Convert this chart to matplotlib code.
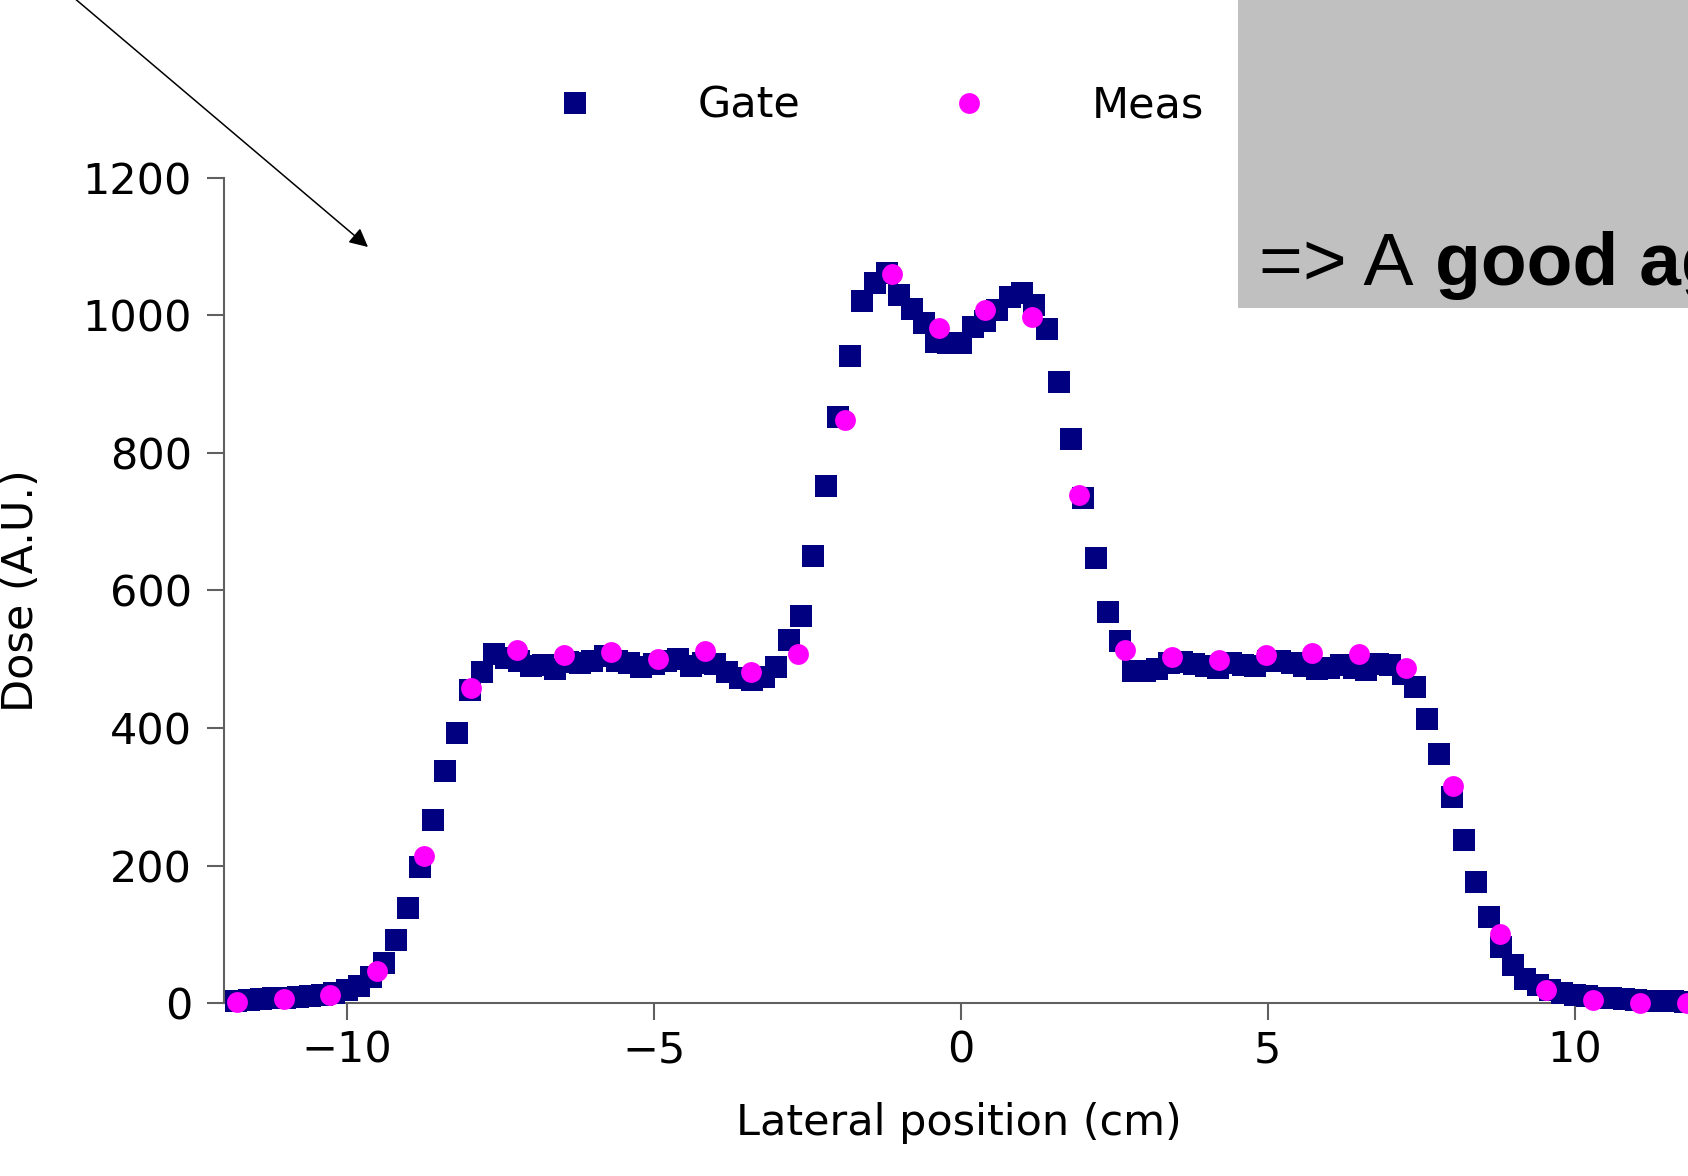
import matplotlib.pyplot as plt
from matplotlib.patches import Rectangle, FancyArrowPatch

# lateral dose profile, Gate simulation (one point every 0.2 cm)
gate_x = [-11.8, -11.6, -11.4, -11.2, -11.0, -10.8, -10.6, -10.4, -10.2, -10.0,
          -9.8, -9.6, -9.4, -9.2, -9.0, -8.8, -8.6, -8.4, -8.2, -8.0,
          -7.8, -7.6, -7.4, -7.2, -7.0, -6.8, -6.6, -6.4, -6.2, -6.0,
          -5.8, -5.6, -5.4, -5.2, -5.0, -4.8, -4.6, -4.4, -4.2, -4.0,
          -3.8, -3.6, -3.4, -3.2, -3.0, -2.8, -2.6, -2.4, -2.2, -2.0,
          -1.8, -1.6, -1.4, -1.2, -1.0, -0.8, -0.6, -0.4, -0.2, 0.0,
          0.2, 0.4, 0.6, 0.8, 1.0, 1.2, 1.4, 1.6, 1.8, 2.0,
          2.2, 2.4, 2.6, 2.8, 3.0, 3.2, 3.4, 3.6, 3.8, 4.0,
          4.2, 4.4, 4.6, 4.8, 5.0, 5.2, 5.4, 5.6, 5.8, 6.0,
          6.2, 6.4, 6.6, 6.8, 7.0, 7.2, 7.4, 7.6, 7.8, 8.0,
          8.2, 8.4, 8.6, 8.8, 9.0, 9.2, 9.4, 9.6, 9.8, 10.0,
          10.2, 10.4, 10.6, 10.8, 11.0, 11.2, 11.4, 11.6, 11.8, 12.0]
gate_dose = [4, 5, 6, 7, 8, 9, 10, 12, 15, 19,
             25, 38, 58, 92, 138, 198, 267, 337, 393, 456,
             482, 507, 502, 498, 490, 492, 486, 496, 494, 497,
             505, 498, 494, 489, 493, 497, 501, 490, 494, 493,
             482, 473, 470, 474, 489, 528, 563, 650, 752, 852,
             941, 1020, 1047, 1061, 1029, 1009, 988, 961, 960, 960,
             983, 991, 1008, 1027, 1033, 1015, 980, 903, 820, 734,
             647, 568, 526, 483, 483, 486, 494, 496, 493, 490,
             488, 494, 492, 490, 498, 497, 494, 490, 486, 488,
             491, 488, 484, 493, 492, 478, 459, 413, 363, 300,
             237, 177, 126, 82, 56, 36, 27, 19, 15, 12,
             10, 8, 7, 6, 5, 4, 4, 3, 2, 2]

# measured profile
meas_x = [-11.79, -11.03, -10.27, -9.50, -8.74, -7.98, -7.22, -6.46, -5.69, -4.93,
          -4.17, -3.41, -2.65, -1.89, -1.12, -0.36, 0.40, 1.16, 1.92, 2.68,
          3.45, 4.21, 4.97, 5.73, 6.49, 7.25, 8.02, 8.78, 9.54, 10.30,
          11.07, 11.83]
meas_dose = [2, 6, 12, 47, 214, 458, 513, 506, 511, 500,
             512, 482, 507, 847, 1060, 982, 1007, 997, 739, 514,
             503, 499, 506, 509, 508, 487, 316, 101, 20, 5,
             1, 0]

x_ticks = [-10, -5, 0, 5, 10]
y_ticks = [0, 200, 400, 600, 800, 1000, 1200]

W, H = 1688, 1176
fig = plt.figure(figsize=(W / 100, H / 100), dpi=100)
ax = fig.add_axes([224 / W, 172.7 / H, 1504 / W, 825.7 / H])

ax.plot(gate_x, gate_dose, ls='none', marker='s', ms=16, mew=0,
        color='#000080', label='Gate', zorder=3, clip_on=False)
ax.plot(meas_x, meas_dose, ls='none', marker='o', ms=15, mew=0,
        color='#FF00FF', label='Meas', zorder=4, clip_on=False)

ax.set_xlim(-12, 12.5)
ax.set_ylim(0, 1200)
ax.set_xticks(x_ticks)
ax.set_yticks(y_ticks)
for s in ['top', 'right']:
    ax.spines[s].set_visible(False)
for s in ['left', 'bottom']:
    ax.spines[s].set_color('#606060')
    ax.spines[s].set_linewidth(1.5)
ax.tick_params(axis='both', direction='out', length=12, width=1.5,
               color='#606060', labelsize=31)
ax.tick_params(axis='y', pad=11)
ax.tick_params(axis='x', pad=7)

ax.set_xlabel('Lateral position (cm)', fontsize=31)
ax.set_ylabel('Dose (A.U.)', fontsize=31)
ax.xaxis.set_label_coords(735 / 1504, -0.12)
ax.yaxis.set_label_coords(-0.121, 0.5)

ax.legend(loc='center left', bbox_to_anchor=(553 / W, 1 - 106 / H),
          bbox_transform=fig.transFigure, ncol=2, frameon=False,
          fontsize=31, handlelength=1.0, handletextpad=2.35,
          columnspacing=3.42, borderpad=0, borderaxespad=0, markerscale=1.0)

# grey text box from the slide, cut off at the right edge
fig.patches.append(Rectangle((1238 / W, 1 - 308 / H), 460 / W, 308 / H,
                             transform=fig.transFigure, facecolor='#C0C0C0',
                             edgecolor='none', zorder=5))
fig.text(1259 / W, 1 - 285 / H, '=> A', fontsize=54, family='Liberation Sans',
         va='baseline', ha='left', zorder=6)
fig.text(1435 / W, 1 - 285 / H, 'good agreement', fontsize=54,
         family='Liberation Sans', weight='bold', va='baseline', ha='left', zorder=6)

# arrow coming in from the top-left corner
fig.patches.append(FancyArrowPatch((47 / W, 1 + 25 / H), (368 / W, 1 - 247 / H),
                                   transform=fig.transFigure, arrowstyle='-|>',
                                   mutation_scale=28, lw=1.1, color='black',
                                   shrinkA=0, shrinkB=0, zorder=6))

fig.savefig('out.png', dpi=100)
